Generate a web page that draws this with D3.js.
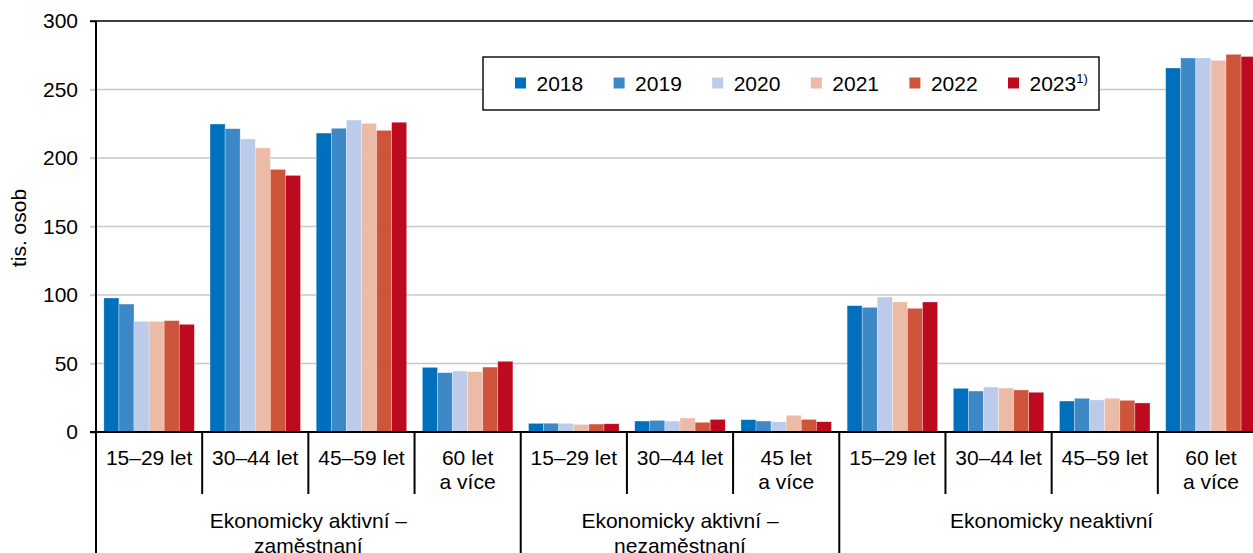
<!DOCTYPE html>
<html lang="cs">
<head>
<meta charset="UTF-8">
<title>Obyvatelstvo podle ekonomické aktivity</title>
<script src="https://d3js.org/d3.v7.min.js"></script>
<style>
  body { margin: 0; background: #fff; }
  svg { display: block; font-family: "Liberation Sans", Arial, sans-serif; }
</style>
</head>
<body>
<svg id="chart" width="1253" height="553"></svg>
<script>
// categories (age groups) and their parent groups
const ageLabels = [
  ["15–29 let"], ["30–44 let"], ["45–59 let"], ["60 let", "a více"],
  ["15–29 let"], ["30–44 let"], ["45 let", "a více"],
  ["15–29 let"], ["30–44 let"], ["45–59 let"], ["60 let", "a více"]
];
const groupLabels = [
  ["Ekonomicky aktivní –", "zaměstnaní"],
  ["Ekonomicky aktivní –", "nezaměstnaní"],
  ["Ekonomicky neaktivní"]
];
const groupSizes = [4, 3, 4];

const years = ["2018", "2019", "2020", "2021", "2022", "2023"];
const yearColors = ["#0070bd", "#3d89c8", "#bccbea", "#ebbba8", "#ce553b", "#bd0a1f"];

// tis. osob
const v2018 = [97.8, 224.8, 218.2, 47.2, 6.3, 8.0, 9.0, 92.2, 31.9, 22.6, 265.7];
const v2019 = [93.4, 221.4, 221.7, 43.3, 6.4, 8.5, 8.0, 91.0, 29.9, 24.6, 273.0];
const v2020 = [80.8, 213.9, 227.7, 44.5, 6.3, 8.0, 7.5, 98.5, 32.8, 23.4, 273.0];
const v2021 = [80.8, 207.3, 225.3, 44.0, 5.5, 10.2, 12.2, 94.9, 32.1, 24.6, 271.3];
const v2022 = [81.3, 191.7, 220.2, 47.4, 5.8, 7.1, 9.2, 90.3, 30.7, 23.1, 275.7];
const v2023 = [78.6, 187.3, 226.1, 51.6, 6.0, 9.2, 7.5, 94.9, 29.0, 21.2, 274.1];
const series = [v2018, v2019, v2020, v2021, v2022, v2023];

const yTicks = [0, 50, 100, 150, 200, 250, 300];

const svg = d3.select("#chart");
const plotLeft = 96, plotRight = 1264, plotTop = 21, plotBase = 432;
const fs = 21;

const idx = d3.range(ageLabels.length);
const x0 = d3.scaleBand().domain(idx).range([plotLeft, plotRight]).padding(0);
const x1 = d3.scaleBand().domain(years).range([0, x0.bandwidth()]).paddingInner(0).paddingOuter(0.52);
const y = d3.scaleLinear().domain([0, 300]).range([plotBase, plotTop]);

// gridlines
svg.append("g")
  .selectAll("line")
  .data(yTicks.filter(d => d > 0 && d < 300))
  .join("line")
  .attr("x1", plotLeft - 6).attr("x2", 1253)
  .attr("y1", d => y(d)).attr("y2", d => y(d))
  .attr("stroke", "#c9c9c9").attr("stroke-width", 1.3);

// bars
const rows = [];
series.forEach((vals, si) => vals.forEach((v, ci) => rows.push({ ci, year: years[si], si, v })));
svg.append("g")
  .selectAll("rect")
  .data(rows)
  .join("rect")
  .attr("x", d => x0(d.ci) + x1(d.year))
  .attr("width", x1.bandwidth())
  .attr("y", d => y(d.v))
  .attr("height", d => y(0) - y(d.v))
  .attr("fill", d => yearColors[d.si])
  .attr("stroke", "#fff").attr("stroke-width", 0.6).attr("stroke-opacity", 0.5);

// top border line at 300
svg.append("line")
  .attr("x1", plotLeft - 6).attr("x2", 1253)
  .attr("y1", y(300)).attr("y2", y(300))
  .attr("stroke", "#000").attr("stroke-width", 1.6);

// y axis
const yAxis = svg.append("g")
  .attr("transform", `translate(${plotLeft},0)`)
  .call(d3.axisLeft(y).tickValues(yTicks).tickSize(6).tickPadding(12));
yAxis.select(".domain").remove();
yAxis.selectAll(".tick line").attr("stroke", d => (d === 0 || d === 300) ? "#000" : "#c9c9c9").attr("stroke-width", 1.5);
yAxis.selectAll(".tick text").attr("font-size", fs).attr("fill", "#000").attr("font-family", "Liberation Sans, Arial, sans-serif");

svg.append("text")
  .attr("transform", `translate(26,228) rotate(-90)`)
  .attr("text-anchor", "middle")
  .attr("font-size", fs)
  .text("tis. osob");

// x axis line
svg.append("line")
  .attr("x1", plotLeft - 6).attr("x2", 1253)
  .attr("y1", plotBase).attr("y2", plotBase)
  .attr("stroke", "#000").attr("stroke-width", 2);

// left vertical axis line (continues down as outer separator)
svg.append("line")
  .attr("x1", plotLeft).attr("x2", plotLeft)
  .attr("y1", plotTop).attr("y2", 553)
  .attr("stroke", "#000").attr("stroke-width", 2);

// group boundaries
const groupStarts = [];
let acc = 0;
groupSizes.forEach(n => { groupStarts.push(acc); acc += n; });

idx.slice(1).forEach(i => {
  const major = groupStarts.includes(i);
  svg.append("line")
    .attr("x1", x0(i)).attr("x2", x0(i))
    .attr("y1", plotBase).attr("y2", major ? 553 : 494)
    .attr("stroke", "#000").attr("stroke-width", 2);
});

// category labels
const catG = svg.append("g").attr("font-size", fs).attr("text-anchor", "middle");
ageLabels.forEach((lines, i) => {
  const cx = x0(i) + x0.bandwidth() / 2;
  const t = catG.append("text").attr("x", cx).attr("y", 465);
  lines.forEach((l, k) => t.append("tspan").attr("x", cx).attr("dy", k ? 24 : 0).text(l));
});

// group labels
groupLabels.forEach((lines, g) => {
  const a = x0(groupStarts[g]);
  const b = x0(groupStarts[g] + groupSizes[g] - 1) + x0.bandwidth();
  const cx = (a + b) / 2;
  const t = catG.append("text").attr("x", cx).attr("y", 528);
  lines.forEach((l, k) => t.append("tspan").attr("x", cx).attr("dy", k ? 24.5 : 0).text(l));
});

// legend
const lg = svg.append("g");
lg.append("rect")
  .attr("x", 483).attr("y", 57).attr("width", 616).attr("height", 53)
  .attr("fill", "#fff").attr("stroke", "#000").attr("stroke-width", 1.4);
years.forEach((yr, i) => {
  const sx = 515 + i * 98.6;
  lg.append("rect").attr("x", sx).attr("y", 77.5).attr("width", 11).attr("height", 11).attr("fill", yearColors[i]);
  const t = lg.append("text").attr("x", sx + 21.5).attr("y", 90.5).attr("font-size", fs).text(yr);
  if (i === years.length - 1) {
    t.append("tspan").attr("font-size", 13).attr("dy", -8).text("1)");
  }
});
</script>
</body>
</html>
